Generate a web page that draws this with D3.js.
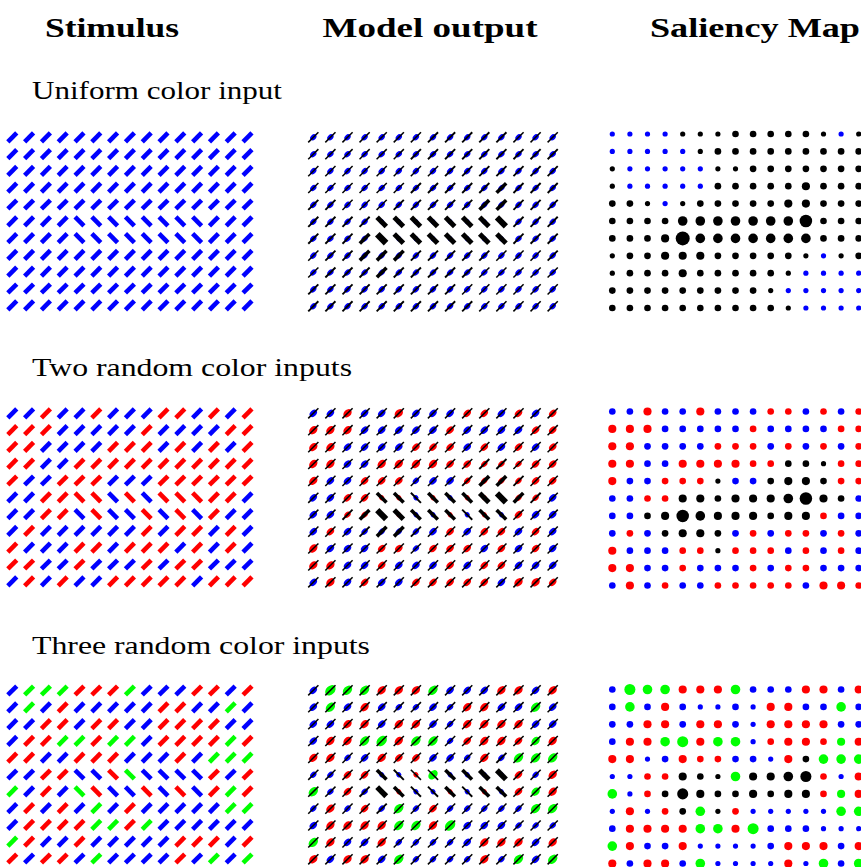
<!DOCTYPE html>
<html>
<head>
<meta charset="utf-8">
<script src="https://cdn.jsdelivr.net/npm/d3@7"></script>
<style>
body { margin: 0; background: #fff; }
</style>
</head>
<body>
<script>
// every panel is a 15 x 11 grid of bars / dots
var nCols = 15, nRows = 11;

var headers = ["Stimulus", "Model output", "Saliency Map"];
var rowTitles = ["Uniform color input", "Two random color inputs", "Three random color inputs"];

// bar orientation: "/" = 45 deg, "x" = 135 deg (the target patch)
var orient = [
  "///////////////",
  "///////////////",
  "///////////////",
  "///////////////",
  "///////////////",
  "////xxxxxxxx///",
  "////xxxxxxxx///",
  "///////////////",
  "///////////////",
  "///////////////",
  "///////////////"
];

// stimulus colours b = blue, r = red, g = green
var stim1 = [
  "bbbbbbbbbbbbbbb", "bbbbbbbbbbbbbbb", "bbbbbbbbbbbbbbb", "bbbbbbbbbbbbbbb",
  "bbbbbbbbbbbbbbb", "bbbbbbbbbbbbbbb", "bbbbbbbbbbbbbbb", "bbbbbbbbbbbbbbb",
  "bbbbbbbbbbbbbbb", "bbbbbbbbbbbbbbb", "bbbbbbbbbbbbbbb"
];
var stim2 = [
  "bbrbbrbbbrrbrbr",
  "rrrbbbbbrbbbbrr",
  "rrbbbbrrrbrbrbr",
  "rrbbrrrrrrrrrrr",
  "rbbrrrbbbrrrrrr",
  "bbrrrrbrbrrrrrb",
  "bbrrbrbbrbrbrbb",
  "brbbbbbbrbrrbrb",
  "rbbbrrbrrrbrbrb",
  "rrbbrbbbrbrrbbb",
  "brbrbbrrrrrbrrr"
];
var stim3 = [
  "bgggrrrgbbbrrbr",
  "bgbrbbbbbrrbbgb",
  "bbrrbrrbbrrrrbb",
  "brrggrggbrrrrgr",
  "rrbbrrrbbbrbggg",
  "bbrrbbrgbbbbrbr",
  "gbrbgrbbrbrbrgr",
  "brbrbgbrbbbbbgg",
  "brrrrggrgbbbbbb",
  "grbbrbbbbbrrrbr",
  "rbrrbgbbbbrbgbg"
];

// saliency level of each location (3 = weak ... 9 = strongest)
var sal1 = [
  "333333344444333",
  "333333444444444",
  "333333334444444",
  "333333444445444",
  "443334444455444",
  "444466666668444",
  "444596666666444",
  "344555444443334",
  "344454444433333",
  "444444444333333",
  "444444444433333"
];
var sal2 = [
  "445445444444444",
  "555444444444444",
  "554444444444444",
  "554455554444344",
  "544444344455444",
  "444455455568544",
  "444586555455444",
  "444455444444444",
  "544444344444444",
  "554444444444444",
  "454444444444554"
];
var sal3 = [
  "476655564445545",
  "464543343554464",
  "445545543555544",
  "455675663455455",
  "553454444354666",
  "334454365567435",
  "634475445455455",
  "353446343333366",
  "455556657444333",
  "654453333455545",
  "545546333353646"
];

// which feature map wins: "k" = orientation (black), "." = colour
var win1 = [
  "....kkkkkkkkk.k",
  ".....kkkkkkkkkk",
  "k.....kkkkkkkkk",
  "k.....kkkkkkkkk",
  "kkk.kkkkkkkkkkk",
  "kkkkkkkkkkkkkkk",
  "kkkkkkkkkkkkkkk",
  "kkkkkkkkkkkk.kk",
  "kkkkkkkkkkk....",
  "kkkkkkkkkk.....",
  "kkkkkkkkkkk...."
];
var win2 = [
  "...............",
  "...............",
  "...............",
  "..........kkk..",
  "......k..kkkk..",
  "....kkkkkkkkkk.",
  "..kkkkkkkkkk...",
  "...kkkk........",
  "......k........",
  "...............",
  "..............."
];
var win3 = [
  "...............",
  "...............",
  "...............",
  "...............",
  "...........k...",
  "....kkk.kkkk...",
  "...kkkkkkkkk...",
  "....k.k........",
  "...............",
  "...............",
  "..............."
];

var stims = [stim1, stim2, stim3];
var sals = [sal1, sal2, sal3];
var wins = [win1, win2, win3];

var colorOf = {b: "#0000ff", r: "#ff0000", g: "#00ff00", k: "#000000"};

var W = 861, H = 867;
var svg = d3.select("body").append("svg")
  .attr("width", W)
  .attr("height", H);

// layout of the three columns of panels
var panelX0 = [12.3, 313.3, 612.3];
var panelDx = [16.8, 17.1, 17.6];
var panelY0 = [
  [137.3, 137.3, 134],
  [413.3, 413.3, 411.5],
  [690.5, 690.3, 689.5]
];
var panelDy = [16.8, 16.9, 17.4];

var headerX = [112, 430, 755];
var headerLen = [134, 215, 210];
var titleLen = [250, 320, 338];
var titleY = [99, 376, 654];

// saliency level -> sizes
var dotR = d3.scaleLinear().domain([3, 9]).range([2.6, 7]);
var blobR = d3.scaleLinear().domain([3, 7]).range([3.6, 6]);
var barW = d3.scaleLinear().domain([3, 4, 5, 6, 9]).range([1.5, 1.9, 3.6, 5, 6.5]).clamp(true);

svg.selectAll("text.header")
  .data(headers)
  .enter().append("text")
  .attr("class", "header")
  .attr("x", function(d, i) { return headerX[i]; })
  .attr("y", 37)
  .attr("text-anchor", "middle")
  .attr("textLength", function(d, i) { return headerLen[i]; })
  .attr("lengthAdjust", "spacingAndGlyphs")
  .style("font-family", "'Liberation Serif', serif")
  .style("font-weight", "bold")
  .style("font-size", "27px")
  .text(function(d) { return d; });

svg.selectAll("text.rowtitle")
  .data(rowTitles)
  .enter().append("text")
  .attr("class", "rowtitle")
  .attr("x", 32)
  .attr("y", function(d, i) { return titleY[i]; })
  .attr("textLength", function(d, i) { return titleLen[i]; })
  .attr("lengthAdjust", "spacingAndGlyphs")
  .style("font-family", "'Liberation Serif', serif")
  .style("font-size", "25px")
  .text(function(d) { return d; });

function cellsFor(r) {
  var cells = [];
  for (var i = 0; i < nRows; i++) {
    for (var j = 0; j < nCols; j++) {
      var lvl = +sals[r][i][j];
      var w = wins[r][i][j];
      cells.push({
        row: i, col: j,
        c: stims[r][i][j],
        o: orient[i][j] == "/" ? -45 : 45,
        sal: lvl,
        win: w,
        colLvl: w == "k" ? 3 : lvl,
        oriLvl: w == "k" ? lvl : 3
      });
    }
  }
  return cells;
}

for (var r = 0; r < 3; r++) {
  var cells = cellsFor(r);
  var x = [], y = [];
  for (var p = 0; p < 3; p++) {
    x[p] = d3.scaleLinear().domain([0, nCols - 1])
      .range([panelX0[p], panelX0[p] + (nCols - 1) * panelDx[p]]);
    y[p] = d3.scaleLinear().domain([0, nRows - 1])
      .range([panelY0[r][p], panelY0[r][p] + (nRows - 1) * panelDy[p]]);
  }

  // stimulus bars
  svg.append("g").selectAll("rect")
    .data(cells)
    .enter().append("rect")
    .attr("x", -6.3).attr("y", -2.3)
    .attr("width", 12.6).attr("height", 4.6)
    .attr("transform", function(d) {
      return "translate(" + x[0](d.col) + "," + y[0](d.row) + ") rotate(" + d.o + ")";
    })
    .style("fill", function(d) { return colorOf[d.c]; });

  // model output: colour blob + black orientation bar
  var g2 = svg.append("g");
  g2.selectAll("ellipse")
    .data(cells)
    .enter().append("ellipse")
    .attr("rx", function(d) { return blobR(d.colLvl) * (d.o > 0 && d.win == "k" ? 0.7 : 1); })
    .attr("ry", function(d) { return blobR(d.colLvl) * 0.72; })
    .attr("transform", function(d) {
      return "translate(" + x[1](d.col) + "," + y[1](d.row) + ") rotate(-45)";
    })
    .style("fill", function(d) { return colorOf[d.c]; });
  g2.selectAll("rect")
    .data(cells)
    .enter().append("rect")
    .attr("x", function(d) { return -(15 - barW(d.oriLvl) * 0.4) / 2; })
    .attr("width", function(d) { return 15 - barW(d.oriLvl) * 0.4; })
    .attr("y", function(d) { return -barW(d.oriLvl) / 2; })
    .attr("height", function(d) { return barW(d.oriLvl); })
    .attr("transform", function(d) {
      return "translate(" + x[1](d.col) + "," + y[1](d.row) + ") rotate(" + d.o + ")";
    })
    .style("fill", "#000");

  // saliency map dots
  svg.append("g").selectAll("circle")
    .data(cells)
    .enter().append("circle")
    .attr("cx", function(d) { return x[2](d.col); })
    .attr("cy", function(d) { return y[2](d.row); })
    .attr("r", function(d) { return dotR(d.sal); })
    .style("fill", function(d) { return colorOf[d.win == "k" ? "k" : d.c]; });
}
</script>
</body>
</html>
